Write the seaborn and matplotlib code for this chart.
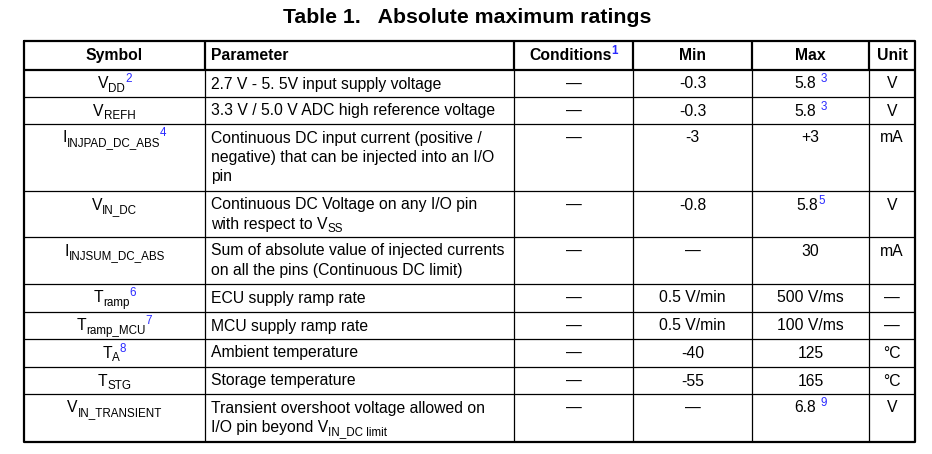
import re
import matplotlib
matplotlib.use("Agg")
import matplotlib.pyplot as plt
import seaborn as sns

# Table content (rich text: _{..} subscript, ^{..} blue superscript)
title = "Table 1.   Absolute maximum ratings"
headers = ["Symbol", "Parameter", "Conditions^{1}", "Min", "Max", "Unit"]
symbols = ["V_{DD}^{2}", "V_{REFH}", "I_{INJPAD_DC_ABS}^{4}", "V_{IN_DC}", "I_{INJSUM_DC_ABS}",
           "T_{ramp}^{6}", "T_{ramp_MCU}^{7}", "T_{A}^{8}", "T_{STG}", "V_{IN_TRANSIENT}"]
parameters = [
    ["2.7 V - 5. 5V input supply voltage"],
    ["3.3 V / 5.0 V ADC high reference voltage"],
    ["Continuous DC input current (positive /", "negative) that can be injected into an I/O", "pin"],
    ["Continuous DC Voltage on any I/O pin", "with respect to V_{SS}"],
    ["Sum of absolute value of injected currents", "on all the pins (Continuous DC limit)"],
    ["ECU supply ramp rate"],
    ["MCU supply ramp rate"],
    ["Ambient temperature"],
    ["Storage temperature"],
    ["Transient overshoot voltage allowed on", "I/O pin beyond V_{IN_DC limit}"],
]
conditions = ["—"] * 10
mins = ["-0.3", "-0.3", "-3", "-0.8", "—", "0.5 V/min", "0.5 V/min", "-40", "-55", "—"]
maxs = ["5.8 ^{3}", "5.8 ^{3}", "+3", "5.8^{5}", "30", "500 V/ms", "100 V/ms", "125", "165", "6.8 ^{9}"]
units = ["V", "V", "mA", "V", "mA", "—", "—", "°C", "°C", "V"]

# layout in pixels
col_edges = [24, 205, 514, 633, 752, 869, 915]
row_edges = [41, 70, 97, 124, 191, 237, 284, 312, 339, 367, 394, 442]

sns.set_theme(style="white")
plt.rcParams['font.family'] = ['Liberation Sans', 'DejaVu Sans']

FS = 11.3
SUP_BLUE = "#2a2aff"

fig = plt.figure(figsize=(9.32, 4.54), dpi=100)
ax = fig.add_axes([0, 0, 1, 1])
ax.set_xlim(0, 932)
ax.set_ylim(454, 0)
ax.axis("off")
renderer = fig.canvas.get_renderer()


def parse(s):
    out = []
    for tok in re.split(r"(_\{[^}]*\}|\^\{[^}]*\})", s):
        if not tok:
            continue
        if tok.startswith("_{"):
            out.append((tok[2:-1], "sub"))
        elif tok.startswith("^{"):
            out.append((tok[2:-1], "sup"))
        else:
            out.append((tok, "base"))
    return out


def rich(x, y, s, ha="left", bold=False, fs=FS):
    texts, widths = [], []
    for txt, kind in parse(s):
        size = fs if kind == "base" else fs * 0.74
        dy = {"base": 0, "sub": 3.5, "sup": -6}[kind]
        color = SUP_BLUE if kind == "sup" else "black"
        t = ax.text(0, y + dy, txt.rstrip(), fontsize=size, color=color,
                    fontweight="bold" if bold else "normal", va="baseline", ha="left")
        w = t.get_window_extent(renderer).width if txt.strip() else 0
        w += (len(txt) - len(txt.rstrip())) * 0.278 * size * 100 / 72
        texts.append(t)
        widths.append(w)
    start = x if ha == "left" else x - sum(widths) / 2
    for t, w in zip(texts, widths):
        t.set_x(start)
        start += w


# title
rich(467, 23, title, ha="center", bold=True, fs=15.3)

# grid lines
left, right = col_edges[0], col_edges[-1]
top, bottom = row_edges[0], row_edges[-1]
ax.hlines(row_edges[2:-1], left, right, color="black", lw=0.9)
ax.vlines(col_edges[1:-1], row_edges[1], bottom, color="black", lw=0.9)
ax.vlines(col_edges[1:-1], top, row_edges[1], color="black", lw=1.6)
ax.hlines(row_edges[1], left, right, color="black", lw=1.6)
ax.plot([left, right, right, left, left], [top, top, bottom, bottom, top], color="black", lw=1.6)

centers = [(a + b) / 2 for a, b in zip(col_edges[:-1], col_edges[1:])]
BASE = 18.5
LINE = 19.5

# header
for i, h in enumerate(headers):
    if i == 1:
        rich(col_edges[1] + 6, top + 19, h, bold=True)
    else:
        rich(centers[i], top + 19, h, ha="center", bold=True)

# body
for r in range(len(symbols)):
    y0 = row_edges[r + 1] + BASE
    rich(centers[0], y0, symbols[r], ha="center")
    for k, line in enumerate(parameters[r]):
        rich(col_edges[1] + 6, y0 + k * LINE, line)
    rich(centers[2], y0, conditions[r], ha="center")
    rich(centers[3], y0, mins[r], ha="center")
    rich(centers[4], y0, maxs[r], ha="center")
    rich(centers[5], y0, units[r], ha="center")

fig.savefig("out.png", dpi=100, facecolor="white")
